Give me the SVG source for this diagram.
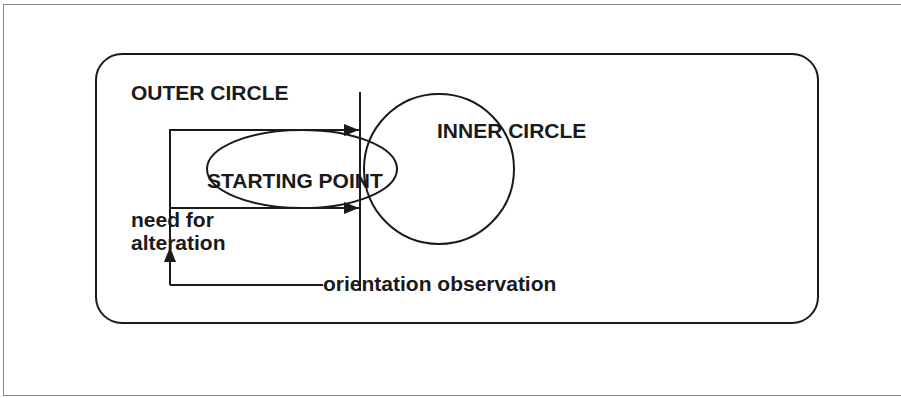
<svg xmlns="http://www.w3.org/2000/svg" width="901" height="398" viewBox="0 0 901 398">
<style>
.ln{fill:none;stroke:#1a1a1a;stroke-width:2}
.t{font-family:"Liberation Sans",Arial,sans-serif;font-weight:bold;font-size:21px;fill:#1a1a1a}
</style>
<defs>
<marker id="ah" viewBox="0 0 10 10" refX="10" refY="5" markerWidth="7.5" markerHeight="7.5" markerUnits="strokeWidth" orient="auto">
<path d="M0,1 L10,5 L0,9 Z" fill="#1a1a1a"/>
</marker>
</defs>
<rect x="0" y="0" width="901" height="398" fill="#fff"/>
<rect x="3.5" y="4.5" width="900" height="391" fill="none" stroke="#888" stroke-width="1"/>
<g id="outer-circle">
<rect x="96" y="54" width="722" height="269" rx="26" class="ln"/>
<text class="t" x="131" y="100">OUTER CIRCLE</text>
</g>
<g id="inner-circle">
<circle cx="439" cy="169" r="75" class="ln"/>
<text class="t" x="437" y="138">INNER CIRCLE</text>
</g>
<g id="starting-point">
<ellipse cx="302" cy="169" rx="95" ry="39" class="ln"/>
<text class="t" x="207" y="188">STARTING POINT</text>
</g>
<g id="connectors">
<line x1="360" y1="92" x2="360" y2="291" class="ln"/>
<polyline points="170,285 170,130 359,130" class="ln" marker-end="url(#ah)"/>
<line x1="170" y1="208" x2="359" y2="208" class="ln" marker-end="url(#ah)"/>
<line x1="323" y1="285" x2="170" y2="285" class="ln"/>
<line x1="170" y1="262" x2="170" y2="247" class="ln" marker-end="url(#ah)"/>
</g>
<g id="labels">
<text class="t" x="131" y="227">need for</text>
<text class="t" x="131" y="250">alteration</text>
<text class="t" x="323" y="291">orientation observation</text>
</g>
</svg>
